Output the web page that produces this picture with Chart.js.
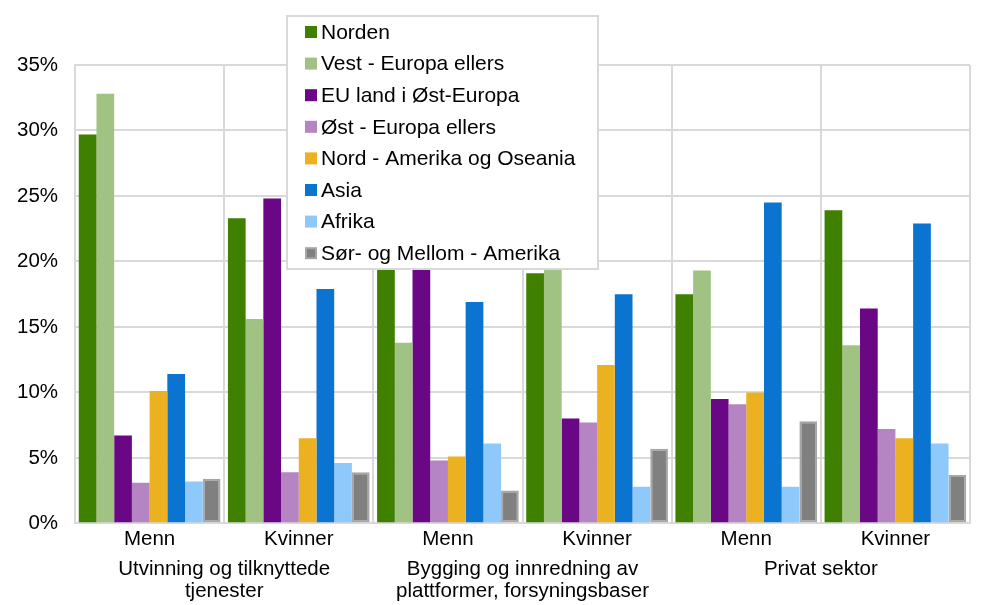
<!DOCTYPE html>
<html>
<head>
<meta charset="utf-8">
<title>Sysselsatte etter landbakgrunn</title>
<script src="https://cdn.jsdelivr.net/npm/chart.js@4/dist/chart.umd.min.js"></script>
<style>
  html, body { margin: 0; padding: 0; background: #fff; }
  #wrap { width: 982px; height: 605px; }
</style>
</head>
<body>
<div id="wrap"><canvas id="chart" width="982" height="605"></canvas></div>
<script>
// Categories
const genderLabels = ['Menn', 'Kvinner', 'Menn', 'Kvinner', 'Menn', 'Kvinner'];
const groupLabels = [
    ['Utvinning og tilknyttede', 'tjenester'],
    ['Bygging og innredning av', 'plattformer, forsyningsbaser'],
    ['Privat sektor']
];

// Series values (percent)
const norden   = [29.7, 23.3, 21.5, 19.1, 17.5, 23.9];
const vestEu   = [32.8, 15.6, 13.8, 19.8, 19.3, 13.6];
const euOst    = [6.7, 24.8, 20.8, 8.0, 9.5, 16.4];
const ostEu    = [3.1, 3.9, 4.8, 7.7, 9.1, 7.2];
const nordAm   = [10.1, 6.5, 5.1, 12.1, 10.0, 6.5];
const asia     = [11.4, 17.9, 16.9, 17.5, 24.5, 22.9];
const afrika   = [3.2, 4.6, 6.1, 2.8, 2.8, 6.1];
const sorAm    = [3.4, 3.9, 2.5, 5.7, 7.8, 3.7];

const yTicks = [0, 5, 10, 15, 20, 25, 30, 35];

const FONT = "'Liberation Sans', Arial, sans-serif";

(function() {
    'use strict';

    const series = [
        { label: 'Norden', data: norden, color: '#3f8000' },
        { label: 'Vest - Europa ellers', data: vestEu, color: '#a0c383' },
        { label: 'EU land i Øst-Europa', data: euOst, color: '#6a0785' },
        { label: 'Øst - Europa ellers', data: ostEu, color: '#b584c3' },
        { label: 'Nord - Amerika og Oseania', data: nordAm, color: '#ebb120' },
        { label: 'Asia', data: asia, color: '#0a74d0' },
        { label: 'Afrika', data: afrika, color: '#8fc8fb' },
        { label: 'Sør- og Mellom - Amerika', data: sorAm, color: '#808080', border: '#a6a6a6' }
    ];

    // Legend box drawn on top of the plot, like the original
    const overlayLegend = {
        id: 'overlayLegend',
        afterDraw(chart) {
            const ctx = chart.ctx;
            const box = { x: 287, y: 16, w: 311, h: 253 };
            ctx.save();
            ctx.fillStyle = '#ffffff';
            ctx.fillRect(box.x, box.y, box.w, box.h);
            ctx.strokeStyle = '#d9d9d9';
            ctx.lineWidth = 2;
            ctx.strokeRect(box.x, box.y, box.w, box.h);
            ctx.font = '21px ' + FONT;
            ctx.textBaseline = 'middle';
            chart.data.datasets.forEach(function(ds, i) {
                const cy = box.y + 16 + i * 31.6;
                ctx.fillStyle = ds.borderWidth ? ds.borderColor : ds.backgroundColor;
                ctx.fillRect(box.x + 18, cy - 6, 12, 12);
                if (ds.borderWidth) {
                    ctx.fillStyle = ds.backgroundColor;
                    ctx.fillRect(box.x + 20, cy - 4, 8, 8);
                }
                ctx.fillStyle = '#000';
                ctx.fillText(ds.label, box.x + 34, cy + 1);
            });
            ctx.restore();
        }
    };

    new Chart(document.getElementById('chart'), {
        type: 'bar',
        data: {
            labels: genderLabels,
            datasets: series.map(function(s) {
                return {
                    label: s.label,
                    data: s.data,
                    backgroundColor: s.color,
                    borderColor: s.border || s.color,
                    borderWidth: s.border ? 2 : 0,
                    borderSkipped: false,
                    categoryPercentage: 0.95,
                    barPercentage: 1.0
                };
            })
        },
        options: {
            responsive: false,
            animation: false,
            layout: {
                padding: { top: 65, right: 12, left: 0, bottom: 0 }
            },
            plugins: {
                legend: { display: false },
                tooltip: { enabled: false }
            },
            scales: {
                x: {
                    grid: {
                        color: '#d9d9d9',
                        lineWidth: 2,
                        offset: true,
                        drawTicks: false
                    },
                    border: { color: '#d9d9d9', width: 2 },
                    ticks: {
                        color: '#000',
                        padding: 4,
                        font: { size: 20.5, family: FONT }
                    }
                },
                x2: {
                    type: 'category',
                    position: 'bottom',
                    labels: groupLabels,
                    offset: true,
                    grid: { display: false, drawTicks: false },
                    border: { display: false },
                    ticks: {
                        color: '#000',
                        padding: 3,
                        font: { size: 20.5, family: FONT, lineHeight: 1.05 }
                    }
                },
                y: {
                    min: 0,
                    max: 35,
                    afterBuildTicks: function(axis) {
                        axis.ticks = yTicks.map(function(v) { return { value: v }; });
                    },
                    grid: {
                        color: '#d9d9d9',
                        lineWidth: 2,
                        drawTicks: false
                    },
                    border: { color: '#d9d9d9', width: 2 },
                    ticks: {
                        color: '#000',
                        padding: 17,
                        font: { size: 20.5, family: FONT },
                        callback: function(value) {
                            return value + '%';
                        }
                    }
                }
            }
        },
        plugins: [overlayLegend]
    });
})();
</script>
</body>
</html>
